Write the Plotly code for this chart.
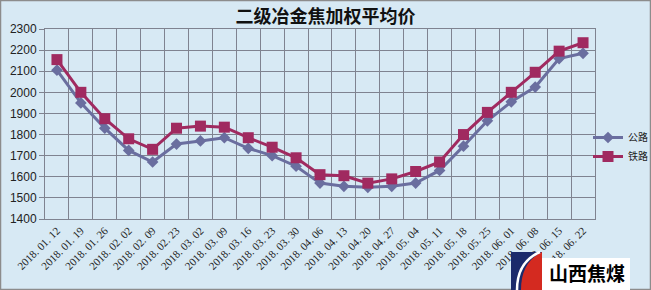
import plotly.graph_objects as go

categories = ["2018. 01. 12", "2018. 01. 19", "2018. 01. 26", "2018. 02. 02", "2018. 02. 09",
              "2018. 02. 23", "2018. 03. 02", "2018. 03. 09", "2018. 03. 16", "2018. 03. 23",
              "2018. 03. 30", "2018. 04. 06", "2018. 04. 13", "2018. 04. 20", "2018. 04. 27",
              "2018. 05. 04", "2018. 05. 11", "2018. 05. 18", "2018. 05. 25", "2018. 06. 01",
              "2018. 06. 08", "2018. 06. 15", "2018. 06. 22"]
road = [2105, 1950, 1830, 1725, 1670, 1755, 1770, 1785, 1735, 1700, 1650, 1570, 1555, 1550,
        1555, 1570, 1630, 1745, 1865, 1955, 2025, 2160, 2185]
rail = [2155, 2000, 1875, 1780, 1730, 1830, 1840, 1835, 1785, 1740, 1690, 1610, 1605, 1570,
        1590, 1625, 1670, 1800, 1905, 2000, 2095, 2195, 2235]
y_ticks = [1400, 1500, 1600, 1700, 1800, 1900, 2000, 2100, 2200, 2300]

W, H = 651, 290
L, R, T, B = 45, 56, 29, 71
PW, PH = W - L - R, H - T - B

def px(x):
    return (x - L) / PW

def py(y):
    return (H - B - y) / PH

BG = "#D7E9F4"
GRID = "#7F8390"

fig = go.Figure()
fig.add_trace(go.Scatter(x=categories, y=road, name="公路", mode="lines+markers",
                         line=dict(color="#6A6E9F", width=3),
                         marker=dict(symbol="diamond", size=9, color="#6A6E9F")))
fig.add_trace(go.Scatter(x=categories, y=rail, name="铁路", mode="lines+markers",
                         line=dict(color="#A02A60", width=3),
                         marker=dict(symbol="square", size=11, color="#A02A60")))

shapes = [
    dict(type="rect", xref="paper", yref="paper", x0=px(0.5), x1=px(W - 0.5), y0=py(H - 0.5), y1=py(0.5),
         line=dict(color="#8C8C8C", width=1.5), layer="above"),
    # logo
    dict(type="rect", xref="paper", yref="paper", x0=px(542), x1=px(630), y0=py(290), y1=py(258),
         fillcolor="white", line=dict(width=0), layer="above"),
    dict(type="rect", xref="paper", yref="paper", x0=px(511), x1=px(542), y0=py(290), y1=py(252),
         fillcolor="#1B2A6B", line=dict(width=0), layer="above"),
    dict(type="path", xref="paper", yref="paper",
         path=f"M {px(521)},{py(290)} Q {px(521)},{py(262)} {px(542)},{py(252)} L {px(542)},{py(290)} Z",
         fillcolor="#D42A20", line=dict(width=0), layer="above"),
    dict(type="path", xref="paper", yref="paper",
         path=f"M {px(517)},{py(290)} Q {px(517)},{py(262)} {px(540)},{py(252)}",
         line=dict(color="white", width=2.5), layer="above"),
]

fig.update_layout(
    width=W, height=H,
    margin=dict(l=L, r=R, t=T, b=B, autoexpand=False),
    paper_bgcolor=BG, plot_bgcolor=BG,
    title=dict(text="<b>二级冶金焦加权平均价</b>", x=px(320), xanchor="center", y=1 - 17 / H, yanchor="middle",
               font=dict(family="Noto Sans CJK SC", size=18, color="#111111")),
    font=dict(family="Liberation Sans, Noto Sans CJK SC", color="#222222"),
    xaxis=dict(type="category", tickson="boundaries", range=[-0.5, len(categories) - 0.5],
               showgrid=True, gridcolor=GRID, gridwidth=1,
               showline=True, linecolor=GRID, mirror=True,
               ticks="", tickangle=-45, tickfont=dict(family="Liberation Serif, Noto Serif CJK SC", size=11, color="#222222")),
    yaxis=dict(range=[1400, 2300], tickvals=y_ticks, showgrid=True, gridcolor=GRID, gridwidth=1,
               showline=True, linecolor=GRID, mirror=True, zeroline=False,
               ticks="outside", ticklen=5, tickcolor=GRID,
               tickfont=dict(family="Liberation Sans", size=12, color="#222222")),
    legend=dict(x=px(588), xanchor="left", y=py(123), yanchor="top", bgcolor="rgba(0,0,0,0)",
                font=dict(family="Noto Sans CJK SC", size=10, color="#222222"),
                itemwidth=30, tracegroupgap=2),
    shapes=shapes,
    annotations=[dict(text="<b>山西焦煤</b>", xref="paper", yref="paper", x=px(587), y=py(272),
                      xanchor="center", yanchor="middle", showarrow=False,
                      font=dict(family="Noto Sans CJK SC", size=19, color="black"))],
)

fig.write_html("out.html")
